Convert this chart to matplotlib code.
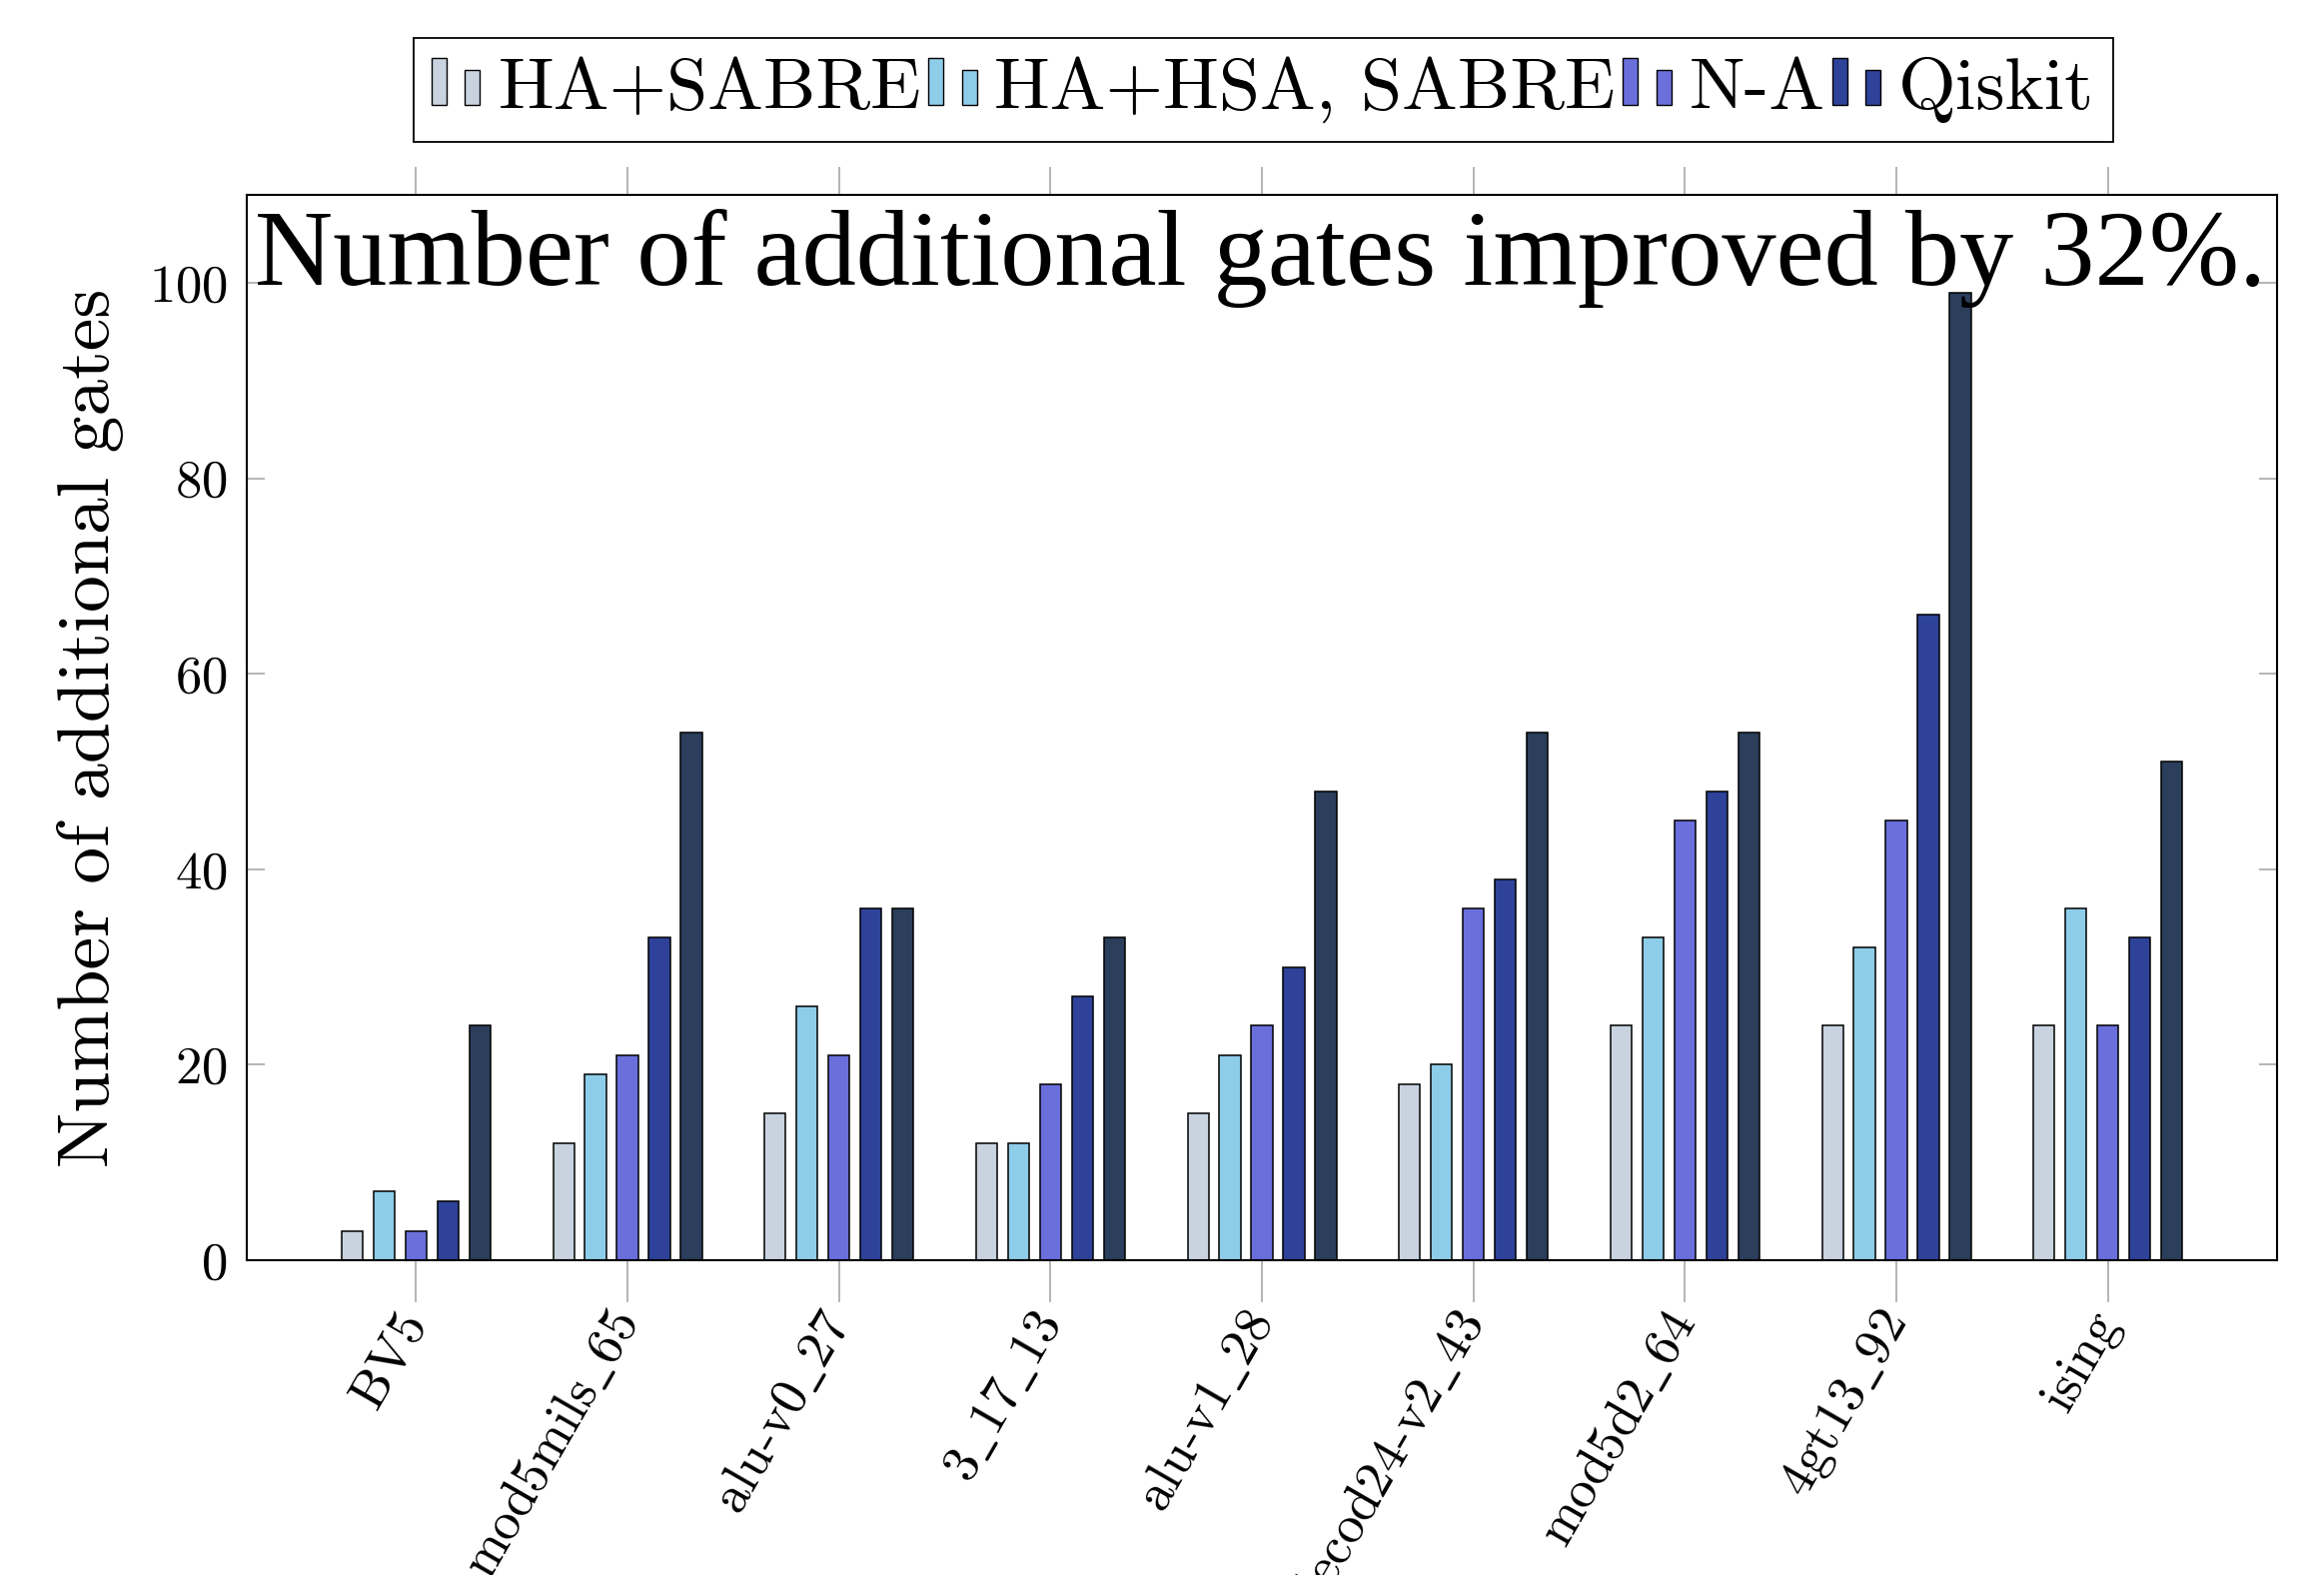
import matplotlib
matplotlib.use("Agg")
import matplotlib.pyplot as plt
import numpy as np
from matplotlib.legend_handler import HandlerBase
from matplotlib.patches import Rectangle

plt.rcParams["font.family"] = "serif"
plt.rcParams["font.serif"] = ["cmr10", "DejaVu Serif"]
plt.rcParams["mathtext.fontset"] = "cm"
plt.rcParams["axes.formatter.use_mathtext"] = True
plt.rcParams["axes.unicode_minus"] = False

# données
circuits = ["BV5", "mod5mils$\\_$65", "alu-v0$\\_$27", "3$\\_$17$\\_$13", "alu-v1$\\_$28",
            "decod24-v2$\\_$43", "mod5d2$\\_$64", "4gt13$\\_$92", "ising"]
ha_sabre = [3, 12, 15, 12, 15, 18, 24, 24, 24]
ha_hsa_sabre = [7, 19, 26, 12, 21, 20, 33, 32, 36]
n_a = [3, 21, 21, 18, 24, 36, 45, 45, 24]
qiskit = [6, 33, 36, 27, 30, 39, 48, 66, 33]
other = [24, 54, 36, 33, 48, 54, 54, 99, 51]

series_labels = ["HA+SABRE", "HA+HSA, SABRE", "N-A", "Qiskit", None]
colors = ["#c8d3df", "#8ecde9", "#6a6fdc", "#2e429a", "#2b3f5c"]
yticks = [0, 20, 40, 60, 80, 100]


class TwoBars(HandlerBase):
    # marqueur façon pgfplots : deux petites barres
    def create_artists(self, legend, orig, xd, yd, width, height, fontsize, trans):
        fc = orig.get_facecolor()
        w = width * 0.31
        y0 = yd + 0.14 * height
        r1 = Rectangle((xd, y0), w, height * 1.0, fc=fc,
                       ec="black", lw=1.0, transform=trans)
        r2 = Rectangle((xd + width - w, y0), w, height * 0.73, fc=fc,
                       ec="black", lw=1.0, transform=trans)
        return [r1, r2]


fig = plt.figure(figsize=(23.26, 15.76), dpi=100)
ax = fig.add_axes([0.1062, 0.1999, 0.9798 - 0.1062, 0.8763 - 0.1999])

x = np.arange(len(circuits))
step, bw = 0.151, 0.10
handles = []
for i, (vals, lab, col) in enumerate(zip([ha_sabre, ha_hsa_sabre, n_a, qiskit, other],
                                         series_labels, colors)):
    b = ax.bar(x + (i - 2) * step, vals, bw, color=col, edgecolor="black", linewidth=1.1)
    if lab:
        handles.append((b.patches[0], lab))

ax.set_xlim(-0.8, 8.8)
ax.set_ylim(0, 109)
ax.set_yticks(yticks)
ax.set_xticks(x)
ax.set_xticklabels(circuits, rotation=60, ha="right", va="center",
                   rotation_mode="anchor", fontsize=38)
ax.tick_params(axis="y", direction="in", left=True, right=True, length=13,
               width=1.2, color="#a8a8a8", labelsize=38, pad=14)
ax.tick_params(axis="x", direction="out", length=30, width=1.2, color="#a8a8a8", pad=10)
top = ax.secondary_xaxis("top")
top.set_xticks(x)
top.tick_params(direction="out", length=20, width=1.2, color="#a8a8a8", labeltop=False)
top.spines["top"].set_visible(False)
for s in ax.spines.values():
    s.set_linewidth(1.5)

ax.set_ylabel("Number of additional gates", fontsize=53, labelpad=18)

fig.text(255 / 2326, 1 - 285 / 1576, "Number of additional gates improved by 32%.",
         family="Liberation Serif", fontsize=78, va="baseline", ha="left")

leg = fig.legend([h for h, _ in handles], [l for _, l in handles],
                 handler_map={matplotlib.patches.Rectangle: TwoBars()},
                 loc="center", bbox_to_anchor=(0.5435, 0.943), ncol=4, fontsize=53.5,
                 frameon=True, fancybox=False, edgecolor="black", framealpha=1,
                 handlelength=0.65, handleheight=0.6, handletextpad=0.24,
                 columnspacing=0.1, borderpad=0.25, borderaxespad=0)
leg.get_frame().set_linewidth(1.3)

fig.savefig("out.png", dpi=100)
